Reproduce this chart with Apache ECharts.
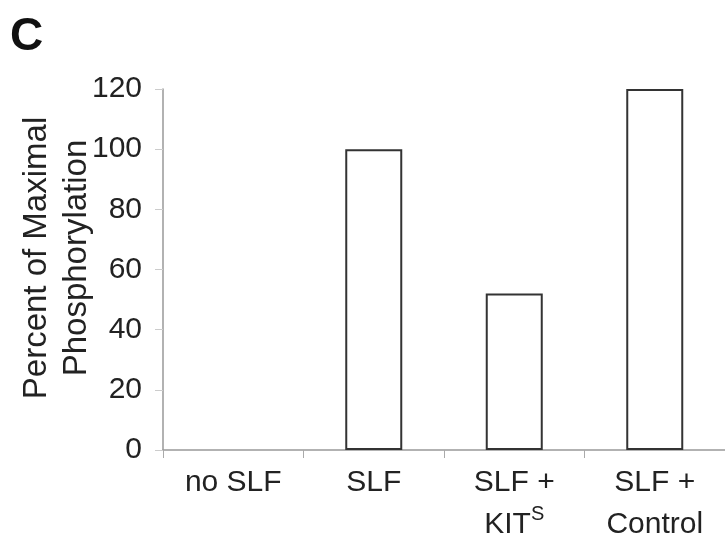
<!DOCTYPE html>
<html>
<head>
<meta charset="utf-8">
<script src="https://cdn.jsdelivr.net/npm/echarts@6/dist/echarts.min.js"></script>
<style>
  html, body { margin: 0; padding: 0; background: #fff; }
  #chart { width: 725px; height: 533px; }
</style>
</head>
<body>
<div id="chart"></div>
<script>
// Phosphorylation relative to SLF-stimulated maximum
const categories = ['no SLF', 'SLF', 'SLF +\nKIT{sup|S}', 'SLF +\nControl'];
const percentMaximal = [0, 100, 52, 120];
const yTicks = { min: 0, max: 120, interval: 20 };

const FONT = '"Liberation Sans", Arial, sans-serif';
const chart = echarts.init(document.getElementById('chart'), null, { renderer: 'canvas' });

// a zero-height bar leaves no outline on the axis
const barData = percentMaximal.map(v => ({
  value: v,
  itemStyle: v === 0 ? { borderWidth: 0 } : undefined
}));

chart.setOption({
  animation: false,
  backgroundColor: '#ffffff',
  grid: { left: 163, right: 0, top: 89, bottom: 83, containLabel: false, outerBoundsMode: 'none' },
  graphic: [
    {
      type: 'text', left: 10, top: 14,
      style: { text: 'C', font: 'bold 46px ' + FONT, fill: '#111' }
    },
    {
      type: 'text', x: 57, y: 258, rotation: Math.PI / 2,
      style: {
        text: 'Percent of Maximal\nPhosphorylation',
        font: '33px ' + FONT, fill: '#222',
        align: 'center', verticalAlign: 'middle', lineHeight: 40
      }
    }
  ],
  xAxis: {
    type: 'category',
    data: categories,
    boundaryGap: true,
    axisLine: { lineStyle: { color: '#999', width: 1.5 } },
    axisTick: { show: true, interval: 0, length: 8, lineStyle: { color: '#aaa' } },
    axisLabel: {
      interval: 0, margin: 12, color: '#222',
      fontFamily: FONT, fontSize: 30, lineHeight: 42,
      rich: { sup: { fontFamily: FONT, fontSize: 20, verticalAlign: 'top', padding: [0, 0, 14, 0], color: '#222' } }
    }
  },
  yAxis: {
    type: 'value',
    min: yTicks.min, max: yTicks.max, interval: yTicks.interval,
    splitLine: { show: false },
    axisLine: { show: true, lineStyle: { color: '#999', width: 1.5 } },
    axisTick: { show: true, length: 8, lineStyle: { color: '#ccc' } },
    axisLabel: { margin: 21, color: '#222', fontFamily: FONT, fontSize: 30 }
  },
  series: [{
    type: 'bar',
    data: barData,
    barWidth: 57,
    itemStyle: { color: '#ffffff', borderColor: '#333', borderWidth: 2 }
  }]
});
</script>
</body>
</html>
